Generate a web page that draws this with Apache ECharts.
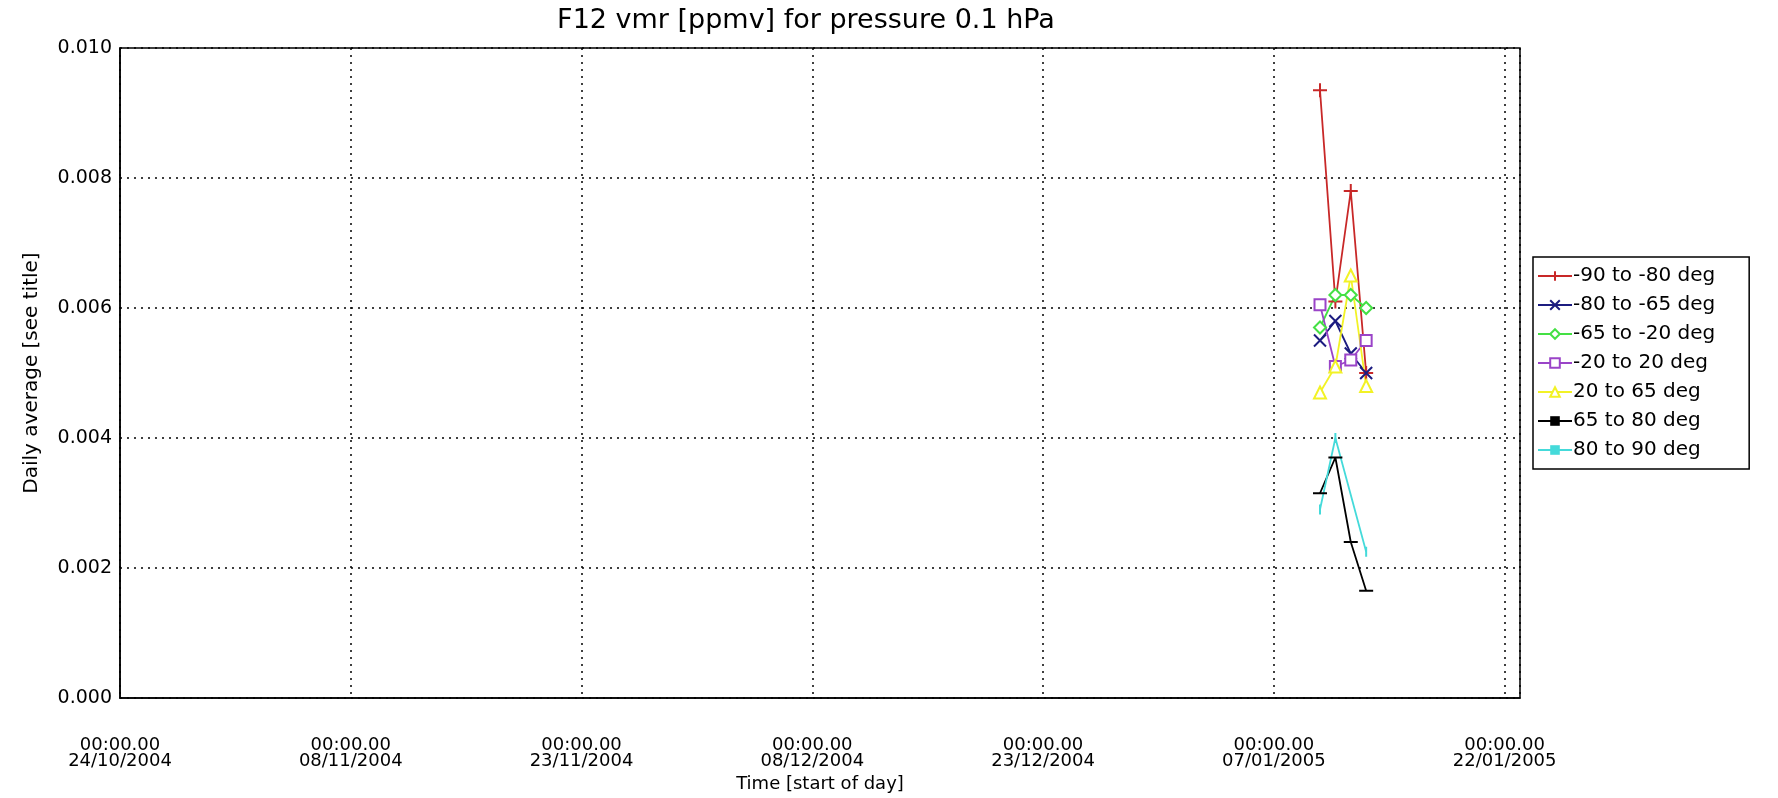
<!DOCTYPE html>
<html>
<head>
<meta charset="utf-8">
<script src="https://cdn.jsdelivr.net/npm/echarts@6/dist/echarts.min.js"></script>
<style>
html,body{margin:0;padding:0;background:#fff;}
#chart{width:1778px;height:798px;}
</style>
</head>
<body>
<div id="chart"></div>
<script>
// ---- data ----
const startDate = '2004-10-24';
const dates = ['2005-01-10', '2005-01-11', '2005-01-12', '2005-01-13'];
const seriesNames = ['-90 to -80 deg', '-80 to -65 deg', '-65 to -20 deg', '-20 to 20 deg', '20 to 65 deg', '65 to 80 deg', '80 to 90 deg'];
const s90to80S = [0.00935, 0.0061, 0.0078, 0.0050];
const s80to65S = [0.0055, 0.0058, 0.0053, 0.0050];
const s65to20S = [0.0057, 0.0062, 0.0062, 0.0060];
const s20Sto20N = [0.00605, 0.0051, 0.0052, 0.0055];
const s20to65N = [0.0047, 0.0051, 0.0065, 0.0048];
const s65to80N = [0.00315, 0.0037, 0.0024, 0.00165];
const s80to90N = [0.0029, 0.0040, null, 0.00225];
const yTicks = [0, 0.002, 0.004, 0.006, 0.008, 0.010];
const xTickStepDays = 15;
const xMaxDays = 91;

// ---- helpers ----
const DAY = 86400000;
const t0 = Date.parse(startDate + 'T00:00:00Z');
function dayOffset(d) { return (Date.parse(d + 'T00:00:00Z') - t0) / DAY; }
function pad(n) { return (n < 10 ? '0' : '') + n; }
function fmtDay(v) {
  const d = new Date(t0 + v * DAY);
  return '00:00.00\n' + pad(d.getUTCDate()) + '/' + pad(d.getUTCMonth() + 1) + '/' + d.getUTCFullYear();
}
function pairs(vals) { return dates.map((d, i) => [dayOffset(d), vals[i]]); }

const FONT = 'DejaVu Sans';
const styles = [
  { color: '#c82828', symbol: 'path://M0,5L10,5M5,0L5,10', size: 14, stroke: true },
  { color: '#1c1c80', symbol: 'path://M0,0L10,10M10,0L0,10', size: 12, stroke: true },
  { color: '#44e044', symbol: 'emptyDiamond', size: 12 },
  { color: '#9a44c8', symbol: 'emptyRect', size: 11 },
  { color: '#f2f226', symbol: 'emptyTriangle', size: 12 },
  { color: '#000000', symbol: 'rect', size: [14, 2] },
  { color: '#44dada', symbol: 'rect', size: [2, 10] }
];
const allVals = [s90to80S, s80to65S, s65to20S, s20Sto20N, s20to65N, s65to80N, s80to90N];

const series = allVals.map((vals, i) => {
  const st = styles[i];
  return {
    name: seriesNames[i],
    type: 'line',
    data: pairs(vals),
    connectNulls: true,
    symbol: st.symbol,
    symbolSize: st.size,
    showAllSymbol: true,
    lineStyle: { color: st.color, width: 1.8 },
    itemStyle: st.stroke
      ? { color: st.color, borderColor: st.color, borderWidth: 2 }
      : { color: st.color, borderWidth: 1.5 },
    emphasis: { disabled: true },
    animation: false
  };
});

const chart = echarts.init(document.getElementById('chart'), null, { renderer: 'canvas' });
chart.setOption({
  backgroundColor: '#ffffff',
  animation: false,
  title: {
    text: 'F12 vmr [ppmv] for pressure 0.1 hPa',
    left: 801,
    top: 2,
    textAlign: 'center',
    textStyle: { fontFamily: FONT, fontSize: 27, fontWeight: 'normal', color: '#000' }
  },
  grid: {
    left: 120, top: 48, width: 1400, height: 650,
    show: true, borderColor: '#000', borderWidth: 1.5, backgroundColor: '#fff'
  },
  legend: {
    orient: 'vertical',
    left: 1533,
    top: 257,
    data: seriesNames,
    itemWidth: 34,
    itemHeight: 12,
    itemGap: 9,
    padding: [9, 34, 9, 4],
    borderColor: '#000',
    borderWidth: 1.5,
    backgroundColor: '#fff',
    selectedMode: false,
    textStyle: { fontFamily: FONT, fontSize: 20, color: '#000', padding: [0, 0, 0, -4] }
  },
  xAxis: {
    type: 'value',
    min: 0,
    max: xMaxDays,
    interval: xTickStepDays,
    name: 'Time [start of day]',
    nameLocation: 'middle',
    nameGap: 76,
    nameTextStyle: { fontFamily: FONT, fontSize: 18, color: '#000' },
    axisLine: { show: true, lineStyle: { color: '#000', width: 1.5 } },
    axisTick: { show: false },
    axisLabel: {
      showMaxLabel: false,
      margin: 39,
      fontFamily: FONT, fontSize: 18, color: '#000', lineHeight: 16,
      formatter: v => (v % xTickStepDays === 0 ? fmtDay(v) : '')
    },
    splitLine: { show: true, lineStyle: { color: '#000', type: [2, 5], width: 1.5 } }
  },
  yAxis: {
    type: 'value',
    min: yTicks[0],
    max: yTicks[yTicks.length - 1],
    interval: yTicks[1] - yTicks[0],
    name: 'Daily average [see title]',
    nameLocation: 'middle',
    nameGap: 78,
    nameTextStyle: { fontFamily: FONT, fontSize: 20, color: '#000' },
    axisLine: { show: true, lineStyle: { color: '#000', width: 1.5 } },
    axisTick: { show: false },
    axisLabel: {
      margin: 8,
      fontFamily: FONT, fontSize: 19, color: '#000',
      formatter: v => v.toFixed(3)
    },
    splitLine: { show: true, lineStyle: { color: '#000', type: [2, 5], width: 1.5 } }
  },
  series: series
});
</script>
</body>
</html>
